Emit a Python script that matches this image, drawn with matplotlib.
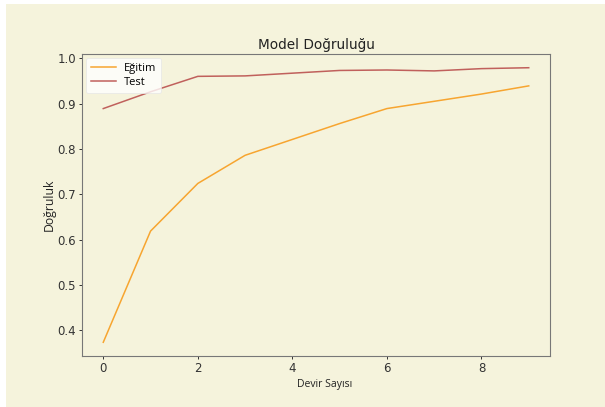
import matplotlib
matplotlib.use("Agg")
import matplotlib.pyplot as plt
from matplotlib.patches import Rectangle

epochs = list(range(10))
train_acc = [0.374, 0.619, 0.724, 0.786, 0.821, 0.856, 0.889, 0.905, 0.921, 0.939]
test_acc = [0.889, 0.926, 0.960, 0.961, 0.967, 0.973, 0.974, 0.972, 0.977, 0.979]

bg = "#f5f3dc"

fig = plt.figure(figsize=(6.05, 4.07), dpi=100)
fig.patch.set_facecolor("white")
fig.patches.append(Rectangle((6 / 605, 0), 1, 1 - 4 / 407, transform=fig.transFigure,
                             facecolor=bg, edgecolor="none", zorder=-1))

ax = fig.add_axes([82 / 605, 51 / 407, 468 / 605, 302 / 407])
ax.set_facecolor(bg)

ax.plot(epochs, train_acc, color="#f7a530", lw=1.1, label="Eğitim")
ax.plot(epochs, test_acc, color="#c0605c", lw=1.1, label="Test")

ax.set_title("Model Doğruluğu", fontsize=9.8, color="#222222", pad=3.5)
ax.set_xlabel("Devir Sayısı", fontsize=7.5, family="Open Sans", color="#222222", labelpad=3)
ax.xaxis.label.set_x(0.519)
ax.set_ylabel("Doğruluk", fontsize=8.8, family="Open Sans", color="#222222", labelpad=1.5)
ax.tick_params(labelsize=8.5, colors="#333333", length=2, pad=2.2, width=0.7)
ax.set_xticks([0, 2, 4, 6, 8])
for s in ax.spines.values():
    s.set_color("#777777")
    s.set_linewidth(0.8)

leg = ax.legend(loc="upper left", prop={"family": "Open Sans", "size": 8},
                framealpha=0.8, borderaxespad=0.35, handlelength=2.25,
                handletextpad=0.7, borderpad=0.45, labelspacing=0.3)
leg.get_frame().set_edgecolor("#e6e6e6")
leg.get_frame().set_linewidth(0.6)

fig.savefig("out.png", dpi=100, facecolor=fig.get_facecolor())
